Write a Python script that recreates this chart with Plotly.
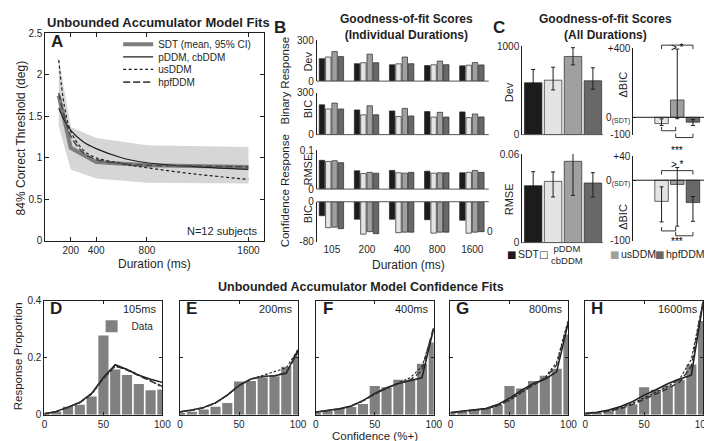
import plotly.graph_objects as go

W, H = 712, 441
FONT = "Liberation Sans, Arial, Helvetica, sans-serif"
INK = "#1f1f1f"


def fx(p):
    return p / W


def fy(p):
    return 1 - p / H


# ---------------- data ----------------
durations = [105, 200, 400, 800, 1600]
duration_labels = ["105", "200", "400", "800", "1600"]
a_xticks = [200, 400, 800, 1600]
a_yticks = [0, 0.5, 1, 1.5, 2, 2.5]
a_yticklabels = ["0", "0.5", "1", "1.5", "2", "2.5"]

sdt_threshold = [1.75, 1.12, 0.95, 0.91, 0.89]
sdt_ci_upper = [2.20, 1.37, 1.24, 1.15, 1.13]
sdt_ci_lower = [1.38, 0.86, 0.75, 0.70, 0.69]

fit_durations = [105, 150, 200, 300, 400, 600, 800, 1200, 1600]
pddm_fit = [1.60, 1.45, 1.33, 1.19, 1.11, 1.00, 0.94, 0.89, 0.86]
usddm_fit = [2.18, 1.62, 1.32, 1.09, 1.00, 0.93, 0.88, 0.80, 0.74]
hpfddm_fit = [1.78, 1.50, 1.26, 1.06, 0.98, 0.93, 0.91, 0.90, 0.89]

models = ["SDT", "pDDM", "usDDM", "hpfDDM"]

dev_by_duration = {
    "SDT": [165, 128, 120, 114, 112],
    "pDDM": [177, 135, 127, 120, 117],
    "usDDM": [217, 198, 177, 147, 136],
    "hpfDDM": [180, 135, 128, 121, 119],
}
bic_by_duration = {
    "SDT": [214, 177, 170, 165, 163],
    "pDDM": [184, 142, 130, 126, 122],
    "usDDM": [226, 207, 188, 160, 148],
    "hpfDDM": [184, 142, 134, 126, 127],
}
rmse_by_duration = {
    "SDT": [0.074, 0.047, 0.048, 0.046, 0.042],
    "pDDM": [0.071, 0.040, 0.042, 0.041, 0.043],
    "usDDM": [0.073, 0.043, 0.041, 0.042, 0.048],
    "hpfDDM": [0.068, 0.041, 0.043, 0.042, 0.043],
}
conf_bic_by_duration = {
    "SDT": [-28, -35, -35, -36, -37],
    "pDDM": [-52, -65, -62, -63, -63],
    "usDDM": [-51, -60, -61, -61, -61],
    "hpfDDM": [-54, -64, -61, -61, -60],
}

dev_all_mean = [586, 615, 883, 608]
dev_all_hi = [736, 762, 982, 755]
dev_all_lo = [498, 505, 788, 513]
rmse_all_mean = [0.0386, 0.0415, 0.0551, 0.0404]
rmse_all_hi = [0.0481, 0.0479, 0.0607, 0.0474]
rmse_all_lo = [0.0276, 0.0309, 0.0320, 0.0309]

dbic_models = ["pDDM", "usDDM", "hpfDDM"]
dbic_binary_mean = [-36, 100, -28]
dbic_binary_hi = [-9, 394, -13]
dbic_binary_lo = [-47, -8, -47]
dbic_conf_mean = [-35, -7, -37]
dbic_conf_hi = [-11, 21, -27]
dbic_conf_lo = [-69, -76, -68]

conf_bins = [0, 10, 20, 30, 40, 50, 60, 70, 80, 90, 100]
conf_ticks = [0, 50, 100]
prop_ticks = [0, 0.2, 0.4]
hist_data = {
    105: [0.005, 0.011, 0.028, 0.035, 0.064, 0.279, 0.159, 0.140, 0.108, 0.086, 0.089],
    200: [0.006, 0.011, 0.019, 0.028, 0.041, 0.117, 0.119, 0.131, 0.135, 0.169, 0.206],
    400: [0.005, 0.013, 0.021, 0.027, 0.038, 0.101, 0.097, 0.123, 0.123, 0.179, 0.254],
    800: [0.005, 0.010, 0.019, 0.024, 0.034, 0.101, 0.092, 0.119, 0.137, 0.162, 0.282],
    1600: [0.005, 0.008, 0.015, 0.026, 0.037, 0.097, 0.088, 0.103, 0.123, 0.177, 0.330],
}
pddm_conf_fit = {
    105: [0.004, 0.012, 0.027, 0.044, 0.075, 0.131, 0.176, 0.159, 0.139, 0.125, 0.114],
    200: [0.011, 0.017, 0.026, 0.042, 0.069, 0.103, 0.126, 0.135, 0.137, 0.146, 0.229],
    400: [0.010, 0.015, 0.021, 0.031, 0.050, 0.075, 0.095, 0.110, 0.120, 0.130, 0.305],
    800: [0.008, 0.012, 0.016, 0.022, 0.036, 0.058, 0.086, 0.109, 0.125, 0.151, 0.327],
    1600: [0.005, 0.009, 0.017, 0.029, 0.046, 0.069, 0.088, 0.109, 0.126, 0.139, 0.395],
}
usddm_conf_fit = {
    105: [0.004, 0.011, 0.025, 0.042, 0.072, 0.127, 0.170, 0.160, 0.140, 0.120, 0.097],
    200: [0.010, 0.016, 0.025, 0.041, 0.068, 0.102, 0.125, 0.138, 0.150, 0.165, 0.229],
    400: [0.009, 0.014, 0.020, 0.030, 0.048, 0.072, 0.093, 0.112, 0.130, 0.170, 0.300],
    800: [0.007, 0.011, 0.015, 0.020, 0.031, 0.050, 0.077, 0.103, 0.130, 0.185, 0.335],
    1600: [0.004, 0.008, 0.015, 0.025, 0.040, 0.060, 0.080, 0.100, 0.125, 0.195, 0.400],
}
hpfddm_conf_fit = {
    105: [0.004, 0.011, 0.026, 0.043, 0.073, 0.128, 0.172, 0.157, 0.137, 0.118, 0.100],
    200: [0.010, 0.016, 0.025, 0.042, 0.069, 0.102, 0.125, 0.134, 0.137, 0.148, 0.220],
    400: [0.009, 0.014, 0.020, 0.031, 0.050, 0.074, 0.094, 0.110, 0.122, 0.155, 0.310],
    800: [0.007, 0.011, 0.015, 0.021, 0.033, 0.053, 0.080, 0.105, 0.127, 0.175, 0.330],
    1600: [0.004, 0.007, 0.013, 0.022, 0.036, 0.055, 0.072, 0.092, 0.115, 0.170, 0.400],
}

# ---------------- styles ----------------
MODEL_COLORS = {"SDT": "#1c1c1c", "pDDM": "#e4e4e4", "usDDM": "#a0a0a0", "hpfDDM": "#686868"}
BAR_EDGE = dict(color="#262626", width=0.7)

fig = go.Figure()

# ---------------- Panel A ----------------
fig.add_trace(go.Scatter(x=durations, y=sdt_ci_lower, mode="lines", line=dict(width=0, color="#d6d6d6"),
                         showlegend=False, hoverinfo="skip", xaxis="x", yaxis="y"))
fig.add_trace(go.Scatter(x=durations, y=sdt_ci_upper, mode="lines", line=dict(width=0, color="#d6d6d6"),
                         fill="tonexty", fillcolor="#d6d6d6", showlegend=False, hoverinfo="skip",
                         xaxis="x", yaxis="y"))
fig.add_trace(go.Scatter(x=durations, y=sdt_threshold, mode="lines", name="SDT (mean, 95% CI)",
                         line=dict(color="#7d7d7d", width=4), xaxis="x", yaxis="y", legend="legend"))
fig.add_trace(go.Scatter(x=fit_durations, y=pddm_fit, mode="lines", line_shape="spline", name="pDDM, cbDDM",
                         line=dict(color=INK, width=1.2), xaxis="x", yaxis="y", legend="legend2"))
fig.add_trace(go.Scatter(x=fit_durations, y=usddm_fit, mode="lines", line_shape="spline", name="usDDM",
                         line=dict(color=INK, width=1.2, dash="3px,2.5px"), xaxis="x", yaxis="y",
                         legend="legend4"))
fig.add_trace(go.Scatter(x=fit_durations, y=hpfddm_fit, mode="lines", line_shape="spline", name="hpfDDM",
                         line=dict(color="#4a4a4a", width=1.6, dash="7px,3px"), xaxis="x", yaxis="y",
                         legend="legend5"))

# ---------------- Panel B ----------------
b_metrics = [(dev_by_duration, "2"), (bic_by_duration, "3"), (rmse_by_duration, "4"),
             (conf_bic_by_duration, "5")]
for j, m in enumerate(models):
    for data, k in b_metrics:
        fig.add_trace(go.Bar(x=duration_labels, y=data[m], offset=-0.36 + 0.18 * j, width=0.155,
                             marker=dict(color=MODEL_COLORS[m], line=BAR_EDGE), name=m,
                             xaxis="x" + k, yaxis="y" + k, showlegend=False))

# ---------------- Panel C (left) ----------------
for i, m in enumerate(models):
    fig.add_trace(go.Bar(x=[m], y=[dev_all_mean[i]], width=0.88, name=m,
                         marker=dict(color=MODEL_COLORS[m], line=BAR_EDGE),
                         error_y=dict(type="data", symmetric=False,
                                      array=[dev_all_hi[i] - dev_all_mean[i]],
                                      arrayminus=[dev_all_mean[i] - dev_all_lo[i]],
                                      color=INK, thickness=1, width=2),
                         xaxis="x6", yaxis="y6", showlegend=False))
    fig.add_trace(go.Bar(x=[m], y=[rmse_all_mean[i]], width=0.88, name=m,
                         marker=dict(color=MODEL_COLORS[m], line=BAR_EDGE),
                         error_y=dict(type="data", symmetric=False,
                                      array=[rmse_all_hi[i] - rmse_all_mean[i]],
                                      arrayminus=[rmse_all_mean[i] - rmse_all_lo[i]],
                                      color=INK, thickness=1, width=2),
                         xaxis="x7", yaxis="y7", showlegend=False))

# ---------------- Panel C (right, delta BIC) ----------------
for i, m in enumerate(dbic_models):
    fig.add_trace(go.Bar(x=[m], y=[dbic_binary_mean[i]], width=0.86, name=m,
                         marker=dict(color=MODEL_COLORS[m], line=BAR_EDGE),
                         error_y=dict(type="data", symmetric=False,
                                      array=[dbic_binary_hi[i] - dbic_binary_mean[i]],
                                      arrayminus=[dbic_binary_mean[i] - dbic_binary_lo[i]],
                                      color=INK, thickness=1, width=2),
                         xaxis="x8", yaxis="y8", showlegend=False))
    fig.add_trace(go.Bar(x=[m], y=[dbic_conf_mean[i]], width=0.86, name=m,
                         marker=dict(color=MODEL_COLORS[m], line=BAR_EDGE),
                         error_y=dict(type="data", symmetric=False,
                                      array=[dbic_conf_hi[i] - dbic_conf_mean[i]],
                                      arrayminus=[dbic_conf_mean[i] - dbic_conf_lo[i]],
                                      color=INK, thickness=1, width=2),
                         xaxis="x9", yaxis="y9", showlegend=False))

# ---------------- Panels D-H ----------------
bottom_panels = [("D", 105, "10", 34, 154), ("E", 200, "11", 172, 292), ("F", 400, "12", 310, 430),
                 ("G", 800, "13", 447, 567), ("H", 1600, "14", 584, 704)]
for letter, d, k, _, _ in bottom_panels:
    fig.add_trace(go.Bar(x=conf_bins, y=hist_data[d], width=8.6, name="Data",
                         marker=dict(color="#808080", line=dict(width=0)),
                         xaxis="x" + k, yaxis="y" + k, showlegend=(d == 105), legend="legend3"))
    fig.add_trace(go.Scatter(x=conf_bins, y=pddm_conf_fit[d], mode="lines", name="pDDM, cbDDM",
                             line=dict(color=INK, width=1.5), xaxis="x" + k, yaxis="y" + k,
                             showlegend=False))
    fig.add_trace(go.Scatter(x=conf_bins, y=usddm_conf_fit[d], mode="lines", name="usDDM",
                             line=dict(color=INK, width=1.1, dash="2.5px,2px"), xaxis="x" + k,
                             yaxis="y" + k, showlegend=False))
    fig.add_trace(go.Scatter(x=conf_bins, y=hpfddm_conf_fit[d], mode="lines", name="hpfDDM",
                             line=dict(color="#333333", width=1.5, dash="6px,3px"), xaxis="x" + k,
                             yaxis="y" + k, showlegend=False))


# ---------------- axes ----------------
def axis(domain, rng, **kw):
    d = dict(domain=domain, range=rng, showgrid=False, zeroline=False,
             tickfont=dict(size=10, color=INK, family=FONT), linecolor=INK, linewidth=1,
             tickcolor=INK, ticks="inside", ticklen=3, fixedrange=True)
    d.update(kw)
    return d


def leg(xp, yp):
    return dict(x=fx(xp), y=fy(yp), xanchor="left", yanchor="middle", bgcolor="rgba(0,0,0,0)",
                font=dict(size=10, color=INK, family=FONT), itemclick=False, traceorder="normal")


layout = dict(
    width=W, height=H, margin=dict(l=0, r=0, t=0, b=0), paper_bgcolor="white", plot_bgcolor="white",
    barmode="overlay", font=dict(family=FONT, size=10, color=INK), showlegend=True,
    legend=leg(109, 31), legend2=leg(109, 44), legend4=leg(109, 57), legend5=leg(109, 70),
    legend3=leg(82, 321),
)

layout["xaxis"] = axis([fx(35), fx(257)], [0, 1720], tickvals=a_xticks, showline=True, mirror="ticks",
                       ticklen=4, anchor="y")
layout["yaxis"] = axis([fy(233), fy(20)], [0, 2.5], tickvals=a_yticks, ticktext=a_yticklabels,
                       showline=True, mirror="ticks", ticklen=4, anchor="x")

b_rows = {"2": (27, 69, [0, 300], [0, 300], ["0", "300"]),
          "3": (81, 124, [0, 300], [0, 300], ["0", "300"]),
          "4": (140, 180, [0, 0.1], [0, 0.1], ["0", "0.1"]),
          "5": (193, 234, [-80, 0], [-80, 0], ["-80", "0"])}
for k, (top, bot, rng, tv, tt) in b_rows.items():
    layout["xaxis" + k] = dict(domain=[fx(311), fx(486)], type="category", range=[-0.43, 4.47],
                               showline=False, ticks="", showgrid=False, zeroline=False,
                               showticklabels=(k == "5"), anchor="y" + k, fixedrange=True,
                               tickfont=dict(size=10, color=INK, family=FONT))
    layout["yaxis" + k] = axis([fy(bot), fy(top)], rng, tickvals=tv, ticktext=tt, showline=True,
                               anchor="x" + k)

c_left = {"6": (33, 124, [0, 1000], [0, 1000], ["0", "1000"]),
          "7": (144, 235, [0, 0.06], [0, 0.06], ["0", "0.06"])}
for k, (top, bot, rng, tv, tt) in c_left.items():
    layout["xaxis" + k] = dict(domain=[fx(520), fx(602)], type="category", categoryorder="array",
                               categoryarray=models, range=[-0.55, 3.5], showline=False, ticks="",
                               showgrid=False, zeroline=False, showticklabels=False, anchor="y" + k,
                               fixedrange=True)
    layout["yaxis" + k] = axis([fy(bot), fy(top)], rng, tickvals=tv, ticktext=tt, showline=True,
                               anchor="x" + k)

c_right = {"8": (35, 124, [-100, 400], [-100, 0, 400], ["-100", "0<sub>(SDT)</sub>", "+400"]),
           "9": (146, 233, [-100, 40], [-100, 0, 40], ["-100", "0<sub>(SDT)</sub>", "+40"])}
for k, (top, bot, rng, tv, tt) in c_right.items():
    layout["xaxis" + k] = dict(domain=[fx(633), fx(708)], type="category", categoryorder="array",
                               categoryarray=models, range=[-0.8, 3.9], showline=False, ticks="",
                               showgrid=False, zeroline=False, showticklabels=False, anchor="y" + k,
                               fixedrange=True)
    layout["yaxis" + k] = axis([fy(bot), fy(top)], rng, tickvals=tv, ticktext=tt, showline=True,
                               anchor="x" + k)

for letter, d, k, left, right in bottom_panels:
    layout["xaxis" + k] = axis([fx(left), fx(right)], [0, 100], tickvals=conf_ticks, showline=True,
                               mirror="ticks", anchor="y" + k)
    layout["yaxis" + k] = axis([fy(412), fy(295)], [0, 0.4], tickvals=prop_ticks, showline=True,
                               mirror="ticks", anchor="x" + k, showticklabels=(k == "10"))

fig.update_layout(**layout)

# ---------------- baselines and brackets ----------------
shapes = []
for k in ["2", "3", "4"]:
    shapes.append(dict(type="line", xref="x%s domain" % k, yref="y%s domain" % k, x0=0, x1=1, y0=0, y1=0,
                       line=dict(color="#555555", width=1)))
shapes.append(dict(type="line", xref="x5 domain", yref="y5 domain", x0=0, x1=1, y0=1, y1=1,
                   line=dict(color="#555555", width=1)))
for k in ["6", "7"]:
    shapes.append(dict(type="line", xref="x%s domain" % k, yref="y%s domain" % k, x0=0, x1=1, y0=0, y1=0,
                       line=dict(color="#555555", width=1)))
for k in ["8", "9"]:
    shapes.append(dict(type="line", xref="x%s domain" % k, yref="y" + k, x0=0, x1=1, y0=0, y1=0,
                       line=dict(color=INK, width=1)))

ip, iu, ih = models.index("pDDM"), models.index("usDDM"), models.index("hpfDDM")


def bracket(k, a, b, y_line, y_tip):
    return dict(type="path", xref="x" + k, yref="paper",
                path="M%g,%g L%g,%g L%g,%g L%g,%g" % (a, fy(y_tip), a, fy(y_line), b, fy(y_line), b, fy(y_tip)),
                line=dict(color=INK, width=0.9))


shapes += [bracket("8", ip, ih, 32, 36), bracket("8", ip, iu - 0.1, 120, 116),
           bracket("8", iu - 0.1, ih, 127, 123),
           bracket("9", ip, ih, 161, 165), bracket("9", ip, iu - 0.1, 223, 219),
           bracket("9", iu - 0.1, ih, 228, 224)]
fig.update_layout(shapes=shapes)


# ---------------- text ----------------
def txt(x, y, s, size=10, bold=False, xanchor="center", yanchor="middle", angle=0, color=INK, family=FONT):
    return dict(x=fx(x), y=fy(y), xref="paper", yref="paper", text=("<b>%s</b>" % s) if bold else s,
                showarrow=False, font=dict(size=size, color=color, family=family), xanchor=xanchor,
                yanchor=yanchor, textangle=angle)


ann = [
    txt(150, 9, "Unbounded Accumulator Model Fits", 13, True),
    txt(402, 13, "<b>Goodness-of-fit Scores</b><br><b>(Individual Durations)</b>", 12),
    txt(605, 13, "<b>Goodness-of-fit Scores</b><br><b>(All Durations)</b>", 12),
    txt(356, 281, "Unbounded Accumulator Model Confidence Fits", 12.5, True),
    txt(47, 28, "A", 17, True), txt(274, 14, "B", 17, True), txt(496, 14, "C", 17, True),
    txt(10, 127, "84% Correct Threshold (deg)", 12, angle=-90),
    txt(146, 257, "Duration (ms)", 12),
    txt(253, 223, "N=12 subjects", 11, xanchor="right"),
    txt(279, 68, "Binary Response", 11.5, angle=-90),
    txt(279, 182, "Confidence Response", 11.5, angle=-90),
    txt(302, 49, "Dev", 11, angle=-90), txt(302, 98, "BIC", 11, angle=-90),
    txt(302, 160, "RMSE", 11, angle=-90), txt(302, 206, "BIC", 11, angle=-90),
    txt(404, 258, "Duration (ms)", 12),
    txt(487, 224, "0", 10),
    txt(506, 80, "Dev", 11, angle=-90), txt(506, 190, "RMSE", 11, angle=-90),
    txt(623, 73, "ΔBIC", 11, angle=-90), txt(623, 209, "ΔBIC", 11, angle=-90),
    txt(8, 352, "Response Proportion", 11.5, angle=-90),
    txt(370, 434, "Confidence (%+)", 11.5),
]
# significance labels
for k, ytop, ybot in [("8", 27, 133), ("9", 155, 234)]:
    ann.append(dict(x=iu, y=fy(ytop), xref="x" + k, yref="paper", text="> *", showarrow=False,
                    font=dict(size=10, color="#000000", family=FONT)))
    ann.append(dict(x=iu, y=fy(ybot), xref="x" + k, yref="paper", text="***", showarrow=False,
                    font=dict(size=10, color="#000000", family=FONT)))

# panel letters & durations for D-H
for letter, d, k, left, right in bottom_panels:
    ann.append(txt(left + 12, 303, letter, 17, True))
    ann.append(txt(right - 3, 303, "%dms" % d, 11, xanchor="right"))

# legend for bar colours in panel C
sw = [(509.5, "■", MODEL_COLORS["SDT"]), (541.5, "□", INK),
      (614, "■", MODEL_COLORS["usDDM"]), (660, "■", MODEL_COLORS["hpfDDM"])]
for xpos, glyph, col in sw:
    ann.append(txt(xpos, 247, glyph, 10, color=col, family="DejaVu Sans"))
ann.append(txt(514, 247, "SDT", 10.5, xanchor="left"))
ann.append(txt(547, 247, "pDDM<br>cbDDM", 9.5, xanchor="left"))
ann.append(txt(618, 247, "usDDM", 10.5, xanchor="left"))
ann.append(txt(664, 247, "hpfDDM", 10.5, xanchor="left"))

fig.update_layout(annotations=ann)

fig.write_html("out.html")
